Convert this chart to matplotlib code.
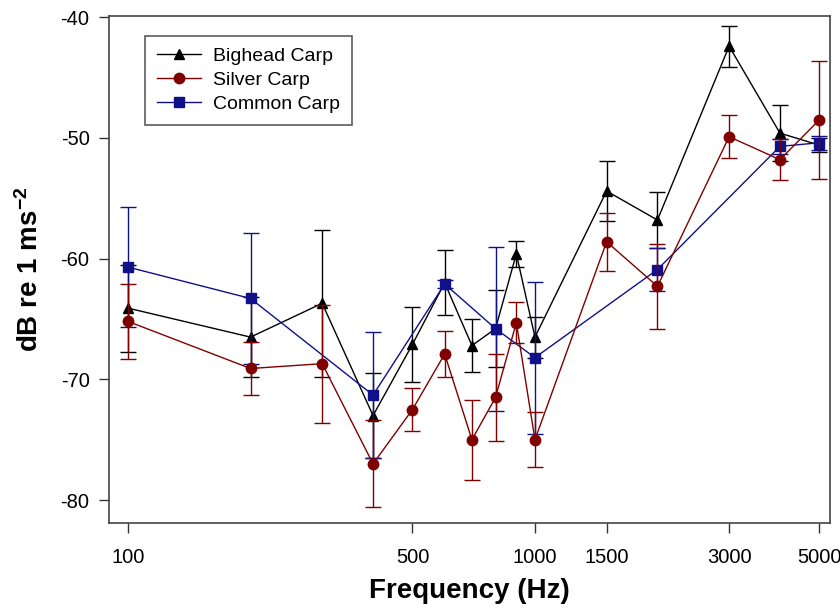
import matplotlib
matplotlib.use('Agg')
import matplotlib.pyplot as plt

# Hearing thresholds per species (mean and SE)
freq_bighead = [100, 200, 300, 400, 500, 600, 700, 800, 900, 1000, 1500, 2000, 3000, 4000, 5000]
bighead = [-64.1, -66.5, -63.7, -73.0, -67.1, -62.0, -67.2, -65.8, -59.6, -66.5, -54.4, -56.8, -42.4, -49.6, -50.6]
bighead_se = [3.6, 3.3, 6.1, 3.5, 3.1, 2.7, 2.2, 3.2, 1.1, 1.7, 2.5, 2.3, 1.7, 2.3, 0.6]

freq_silver = [100, 200, 300, 400, 500, 600, 700, 800, 900, 1000, 1500, 2000, 3000, 4000, 5000]
silver = [-65.2, -69.1, -68.7, -77.0, -72.5, -67.9, -75.0, -71.5, -65.3, -75.0, -58.6, -62.3, -49.9, -51.8, -48.5]
silver_se = [3.1, 2.2, 4.9, 3.6, 1.8, 1.9, 3.3, 3.6, 1.7, 2.3, 2.4, 3.5, 1.8, 1.7, 4.9]

freq_common = [100, 200, 400, 600, 800, 1000, 2000, 4000, 5000]
common = [-60.7, -63.3, -71.3, -62.1, -65.8, -68.2, -60.9, -50.7, -50.4]
common_se = [5.0, 5.4, 5.2, 0.3, 6.8, 6.3, 1.8, 0.6, 0.6]

xtick_vals = [100, 500, 1000, 1500, 3000, 5000]
ytick_vals = [-40, -50, -60, -70, -80]

plt.rcParams['font.family'] = ['Liberation Sans', 'DejaVu Sans']
plt.rcParams['axes.unicode_minus'] = False
plt.rcParams['mathtext.fontset'] = 'custom'
plt.rcParams['mathtext.rm'] = 'Liberation Sans'
plt.rcParams['mathtext.bf'] = 'Liberation Sans:bold'
plt.rcParams['mathtext.default'] = 'bf'

fig = plt.figure(figsize=(8.4, 6.09), dpi=100)
ax = fig.add_axes([0.1298, 0.1412, 0.8583, 0.8325])

common_kw = dict(lw=1, elinewidth=1, capsize=5.5, capthick=1, ms=7.5)
c1 = ax.errorbar(freq_bighead, bighead, yerr=bighead_se, fmt='-^', color='black',
                 label='Bighead Carp', zorder=3, **common_kw)
c3 = ax.errorbar(freq_common, common, yerr=common_se, fmt='-s', color='#10108a',
                 label='Common Carp', zorder=4, **common_kw)
c2 = ax.errorbar(freq_silver, silver, yerr=silver_se, fmt='-o', color='#800000',
                 label='Silver Carp', zorder=5, **common_kw)

ax.set_xscale('log')
ax.set_xlim(89.8, 5310)
ax.set_ylim(-81.9, -39.9)
ax.set_xticks(xtick_vals)
ax.set_xticklabels([str(v) for v in xtick_vals])
ax.xaxis.set_minor_locator(matplotlib.ticker.NullLocator())
ax.set_yticks(ytick_vals)
ax.set_yticklabels([str(v) for v in ytick_vals])
ax.tick_params(axis='both', direction='out', length=7, width=1, colors='#333333',
               labelsize=14.5, labelcolor='black')
ax.tick_params(axis='x', pad=11)
ax.tick_params(axis='y', pad=7)
for s in ax.spines.values():
    s.set_color('#444444')
    s.set_linewidth(1.2)

ax.set_xlabel('Frequency (Hz)', fontsize=20, fontweight='bold', labelpad=8)
ax.set_ylabel('dB re 1 ms$^{-2}$', fontsize=20, fontweight='bold', labelpad=12)

leg = ax.legend(handles=[c1.lines[0], c2.lines[0], c3.lines[0]],
                labels=['Bighead Carp', 'Silver Carp', 'Common Carp'],
                loc='upper left', bbox_to_anchor=(0.05, 0.961), borderaxespad=0,
                fontsize=14, frameon=True, fancybox=False, handlelength=2.3,
                handletextpad=0.6, labelspacing=0.33, borderpad=0.6, numpoints=1)
leg.get_frame().set_edgecolor('#333333')
leg.get_frame().set_linewidth(1.2)

fig.savefig('out.png', dpi=100)
